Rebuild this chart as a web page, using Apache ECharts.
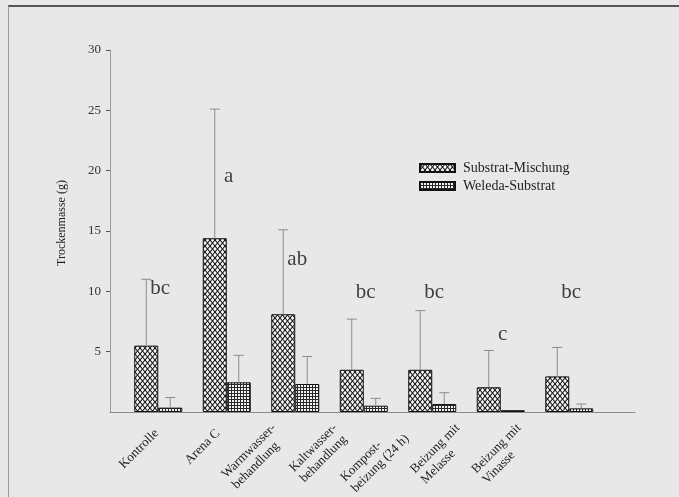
<!DOCTYPE html>
<html>
<head>
<meta charset="utf-8">
<script src="https://cdn.jsdelivr.net/npm/echarts@6/dist/echarts.min.js"></script>
<style>
html,body{margin:0;padding:0;background:#e8e8e8;}
#chart{width:679px;height:497px;position:absolute;left:0;top:0;}
#frame{position:absolute;left:8px;top:5px;right:0;bottom:0;border-top:2px solid #555;border-left:1px solid #999;pointer-events:none;}
</style>
</head>
<body>
<div id="chart"></div>
<div id="frame"></div>
<script>
// ---- data ----
const categories = ['Kontrolle', 'Arena C', 'Warmwasser-\nbehandlung', 'Kaltwasser-\nbehandlung', 'Kompost-\nbeizung (24 h)', 'Beizung mit\nMelasse', 'Beizung mit\nVinasse'];
const seriesNames = ['Substrat-Mischung', 'Weleda-Substrat'];
const substratMean = [5.5, 14.4, 8.1, 3.5, 3.5, 2.05, 2.95];
const substratSd   = [5.5, 10.7, 7.0, 4.2, 4.9, 3.05, 2.4];
const weledaMean   = [0.36, 2.46, 2.32, 0.52, 0.66, 0.15, 0.3];
const weledaSd     = [0.84, 2.24, 2.28, 0.61, 0.94, 0, 0.36];
const letters      = ['bc', 'a', 'ab', 'bc', 'bc', 'c', 'bc'];
const letterPos    = [10.2, 19.5, 12.6, 9.9, 9.9, 6.4, 9.9];
const yTickValues  = [5, 10, 15, 20, 25, 30];
const yTicks = {min: 0, max: 30, interval: 5};

// ---- patterns ----
function crossHatch() {
  const c = document.createElement('canvas');
  const w = 5, h = 6;
  c.width = w; c.height = h;
  const g = c.getContext('2d');
  g.fillStyle = '#f7f7f7'; g.fillRect(0, 0, w, h);
  g.strokeStyle = '#141414'; g.lineWidth = 1.05;
  for (let k = -1; k <= 1; k++) {
    g.beginPath(); g.moveTo(k * w, 0); g.lineTo(w + k * w, h); g.stroke();
    g.beginPath(); g.moveTo(w + k * w, 0); g.lineTo(k * w, h); g.stroke();
  }
  return c;
}
function gridHatch() {
  const c = document.createElement('canvas');
  c.width = 3; c.height = 3;
  const g = c.getContext('2d');
  g.fillStyle = '#f2f2f2'; g.fillRect(0, 0, 3, 3);
  g.fillStyle = '#2a2a2a';
  g.fillRect(0, 0, 3, 1);
  g.fillRect(0, 0, 1, 3);
  return c;
}
const patA = {image: crossHatch(), repeat: 'repeat'};
const patB = {image: gridHatch(), repeat: 'repeat'};

const FONT = 'Liberation Serif';
const BARW = 24;

function errRender(offset) {
  return function (params, api) {
    const i = api.value(0);
    const p0 = api.coord([i, api.value(1)]);
    const p1 = api.coord([i, api.value(2)]);
    const x = p0[0] + offset;
    if (api.value(2) <= api.value(1)) return {type: 'group', children: []};
    const st = {stroke: '#8c8c8c', lineWidth: 1};
    return {
      type: 'group',
      children: [
        {type: 'line', shape: {x1: x, y1: p0[1], x2: x, y2: p1[1]}, style: st},
        {type: 'line', shape: {x1: x - 5, y1: p1[1], x2: x + 5, y2: p1[1]}, style: st}
      ]
    };
  };
}

const chart = echarts.init(document.getElementById('chart'), null, {renderer: 'canvas'});
chart.setOption({
  backgroundColor: '#e8e8e8',
  animation: false,
  textStyle: {fontFamily: FONT},
  legend: {
    orient: 'vertical', left: 414, top: 156, itemWidth: 35, itemHeight: 8, itemGap: 4,
    icon: 'rect',
    data: seriesNames,
    textStyle: {fontFamily: FONT, fontSize: 14, color: '#222', padding: [0, 0, 0, 3]}
  },
  grid: [
    {left: 110, right: 44, top: 50, bottom: 85},
    {left: 124, width: 479.5, top: 50, bottom: 85},
    {left: 126, width: 429, top: 50, bottom: 85}
  ],
  xAxis: [
    {gridIndex: 0, type: 'value', min: 0, max: 1, axisLine: {show: true, lineStyle: {color: '#8a8a8a'}}, axisTick: {show: false}, axisLabel: {show: false}, splitLine: {show: false}},
    {gridIndex: 1, type: 'category', data: categories, axisLine: {show: false}, axisTick: {show: false}, axisLabel: {show: false}},
    {gridIndex: 2, type: 'category', data: categories, axisLine: {show: false}, axisTick: {show: false},
      axisLabel: {
        show: true, interval: 0, rotate: 45, margin: 21, color: '#222', fontFamily: FONT, fontSize: 13,
        formatter: v => v.split('\n').map(l => '{l|' + l + '}').join('\n'),
        rich: {l: {align: 'left', fontFamily: FONT, fontSize: 13, color: '#222', lineHeight: 15}}
      }}
  ],
  yAxis: [
    {gridIndex: 0, type: 'value', min: yTicks.min, max: yTicks.max, interval: yTicks.interval,
      name: 'Trockenmasse (g)', nameLocation: 'middle', nameGap: 42, nameRotate: 90,
      nameTextStyle: {fontFamily: FONT, fontSize: 12, color: '#222', padding: [0, 0, 0, 16]},
      axisLine: {show: true, lineStyle: {color: '#9a9a9a'}},
      axisTick: {show: true, length: 4, customValues: yTickValues, lineStyle: {color: '#555'}},
      axisLabel: {margin: 9, color: '#333', fontFamily: FONT, fontSize: 13, customValues: yTickValues},
      splitLine: {show: false}},
    {gridIndex: 1, type: 'value', min: yTicks.min, max: yTicks.max, show: false},
    {gridIndex: 2, type: 'value', min: yTicks.min, max: yTicks.max, show: false}
  ],
  series: [
    {name: seriesNames[0], type: 'bar', xAxisIndex: 1, yAxisIndex: 1, data: substratMean, barWidth: BARW, barGap: '0%',
      itemStyle: {color: patA, borderColor: '#111', borderWidth: 1}},
    {name: seriesNames[1], type: 'bar', xAxisIndex: 1, yAxisIndex: 1, data: weledaMean, barWidth: BARW, barGap: '0%',
      itemStyle: {color: patB, borderColor: '#111', borderWidth: 1}},
    {type: 'custom', xAxisIndex: 1, yAxisIndex: 1, renderItem: errRender(-BARW / 2), z: 5,
      data: substratMean.map((m, i) => [i, m, m + substratSd[i]])},
    {type: 'custom', xAxisIndex: 1, yAxisIndex: 1, renderItem: errRender(BARW / 2), z: 5,
      data: weledaMean.map((m, i) => [i, m, m + weledaSd[i]])},
    {type: 'scatter', xAxisIndex: 1, yAxisIndex: 1, symbolSize: 1, itemStyle: {color: 'rgba(0,0,0,0)'},
      data: letterPos.map((v, i) => [i, v]),
      label: {show: true, position: 'inside', offset: [2, 0], formatter: p => letters[p.dataIndex], fontFamily: FONT, fontSize: 21, color: '#111'}}
  ]
});
</script>
</body>
</html>
